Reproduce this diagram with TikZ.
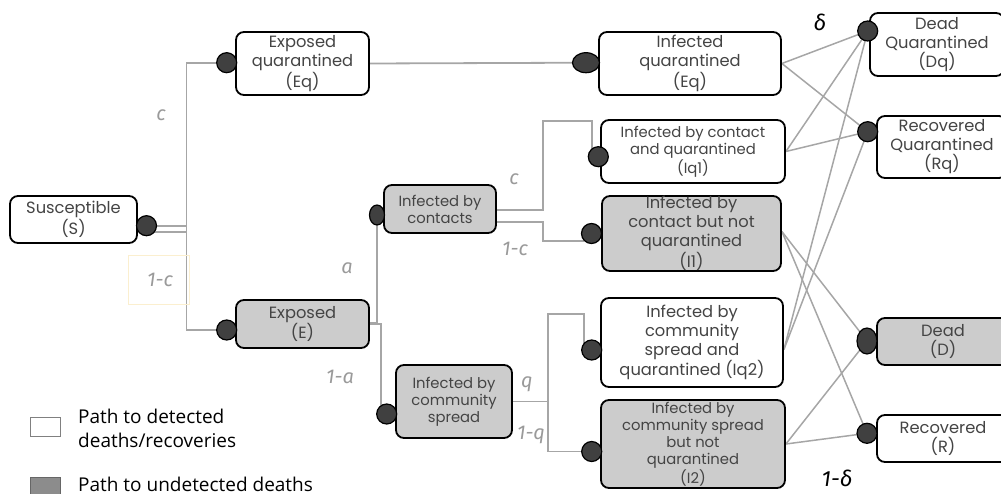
\documentclass[tikz,border=0pt]{standalone}
\usepackage{fontspec}
\setmainfont{Poppins}
\newfontfamily\lblfont{Fira Sans}
\newfontfamily\legfont{Open Sans}
\usetikzlibrary{backgrounds,calc}
\definecolor{txtgray}{HTML}{444444}
\definecolor{linegray}{HTML}{A6A6A6}
\definecolor{boxgray}{HTML}{CCCCCC}
\definecolor{dotgray}{HTML}{404040}
\definecolor{lblgray}{HTML}{9A9A9A}
\definecolor{ybox}{HTML}{FBEFCF}
\tikzset{
  box/.style={draw=black, line width=1.8pt, rounded corners=8pt, fill=white, text=txtgray, align=center, inner sep=0pt, font=\fontsize{16.3}{19}\selectfont},
  gbox/.style={box, fill=boxgray},
  small/.style={font=\fontsize{14.8}{17}\selectfont},
  dot/.style={circle, draw=black, line width=1.2pt, fill=dotgray, minimum size=20pt, inner sep=0pt},
  edot/.style={ellipse, draw=black, line width=1.2pt, fill=dotgray, inner sep=0pt},
  conn/.style={draw=linegray, line width=1.8pt},
  lbl/.style={text=lblgray, font=\lblfont\itshape\fontsize{20}{20}\selectfont, inner sep=0pt},
  blbl/.style={text=black, font=\lblfont\itshape\fontsize{22}{22}\selectfont, inner sep=0pt},
  leg/.style={font=\legfont\fontsize{19}{24}\selectfont, align=left, anchor=west, inner sep=0pt}
}
\usetikzlibrary{shapes.geometric}
\begin{document}
\begin{tikzpicture}[x=1pt,y=-1pt]
\useasboundingbox (0,0) rectangle (1001,494);
% boxes
\node[box, minimum width=127pt, minimum height=47pt] (S) at (73.5,219.5) {Susceptible\\(S)};
\node[box, minimum width=133pt, minimum height=63pt] (Eq1) at (302.5,63.5) {Exposed\\quarantined\\(Eq)};
\node[box, minimum width=182pt, minimum height=63pt] (IqE) at (690,63.5) {Infected\\quarantined\\(Eq)};
\node[box, small, minimum width=184pt, minimum height=63pt] (Iq1) at (693,151.5) {Infected by contact\\and quarantined\\(Iq1)};
\node[gbox, minimum width=179pt, minimum height=75pt] (I1) at (691.5,233.5) {Infected by\\contact but not\\quarantined\\(I1)};
\node[gbox, small, minimum width=112pt, minimum height=48pt] (Cont) at (440,209) {Infected by\\contacts};
\node[gbox, minimum width=133pt, minimum height=48pt] (E) at (302.5,324) {Exposed\\(E)};
\node[gbox, small, minimum width=116pt, minimum height=73pt] (CS) at (454,401.5) {Infected by\\community\\spread};
\node[box, minimum width=182pt, minimum height=89pt] (Iq2) at (692,342.5) {Infected by\\community\\spread and\\quarantined (Iq2)};
\node[gbox, small, minimum width=184pt, minimum height=88pt] (I2) at (693,444) {Infected by\\community spread\\but not\\quarantined\\(I2)};
\node[box, minimum width=134pt, minimum height=63pt] (Dq) at (937,44.5) {Dead\\Quarantined\\(Dq)};
\node[box, minimum width=130pt, minimum height=62pt] (Rq) at (942,147) {Recovered\\Quarantined\\(Rq)};
\node[gbox, minimum width=132pt, minimum height=47pt] (D) at (943,341.5) {Dead\\(D)};
\node[box, minimum width=132pt, minimum height=47pt] (R) at (943,438.5) {Recovered\\(R)};
% dots
\node[dot] (dS) at (146.5,225.7) {};
\node[dot] (dEq1) at (226.7,62.7) {};
\node[edot, minimum width=27pt, minimum height=20pt] (dIqE) at (586,62.7) {};
\node[dot] (dIq1) at (598.3,156.7) {};
\node[dot] (dI1) at (591.5,233.5) {};
\node[edot, minimum width=15pt, minimum height=20pt] (dC) at (377,215) {};
\node[dot] (dE) at (226.7,330) {};
\node[dot] (dCS) at (386.7,414) {};
\node[dot] (dIq2) at (591.7,350) {};
\node[dot] (dI2) at (591.7,451.5) {};
\node[dot] (dDq) at (867.7,31) {};
\node[dot] (dRq) at (867.7,131.7) {};
\node[edot, minimum width=20pt, minimum height=26pt] (dD) at (867,341) {};
\node[dot] (dR) at (867,433.3) {};
% connectors
\begin{scope}[on background layer]
\draw[conn] ([yshift=-6pt]dS.center) -- ++(40,0) |- (dEq1.center);
\draw[conn] (dS.center) -- ++(40,0) |- (dE.center);
\draw[conn] (Eq1.east) -- (dIqE.center);
\draw[conn] ([yshift=1.3pt]E.east) -| (dC.center);
\draw[conn] (E.east) -- ++(11,0) |- (dCS.center);
\draw[conn] ([yshift=-1pt]Cont.east) -- ++(46,0) |- ($(dIq1)+(-6.5,-35.5)$) -- ($(dIq1)+(-6.5,-5)$);
\draw[conn] ([yshift=-13pt]Cont.east) -- ++(46,0) |- ($(dI1)+(-8,7.2)$);
\draw[conn] (CS.east) -- ++(35,0) |- ($(dIq2)+(-7.5,-36)$) -- ($(dIq2)+(-7.5,-5)$);
\draw[conn] (CS.east) -- ++(35,0) |- (dI2.center);
\foreach \src/\y in {IqE/0,Iq1/0,Iq2/-7}{
  \draw[conn, line width=1.5pt] ([yshift=\y pt]\src.east) -- (dDq.center);
  \draw[conn, line width=1.5pt] ([yshift=\y pt]\src.east) -- (dRq.center);
}
\foreach \src/\y in {I1/2,I2/0}{
  \draw[conn, line width=1.5pt] ([yshift=\y pt]\src.east) -- (dD.center);
  \draw[conn, line width=1.5pt] ([yshift=\y pt]\src.east) -- (dR.center);
}
\end{scope}
% labels
\node[lbl] (lc1) at (161,115) {c};
\draw[ybox, line width=0.8pt] (128,255) rectangle (189,304);
\node[lbl] (l1c1) at (160,280) {1-c};
\node[lbl] (la) at (347,268) {a};
\node[lbl] (l1a) at (340,377) {1-a};
\node[lbl] (lc2) at (514,179) {c};
\node[lbl] (l1c2) at (515,249) {1-c};
\node[lbl] (lq) at (527,384) {q};
\node[lbl] (l1q) at (531,435) {1-q};
\node[blbl] (ld) at (820,22) {δ};
\node[blbl] (l1d) at (837,478) {1-δ};
% legend
\node[draw=gray, line width=1pt, fill=white, minimum width=30pt, minimum height=19pt, inner sep=0pt] (legW) at (45,426.5) {};
\node[leg] (legWt) at (78,428) {Path to detected\\deaths/recoveries};
\node[draw=black!60, line width=1pt, fill=gray!90, minimum width=30pt, minimum height=19pt, inner sep=0pt] (legG) at (45,486.5) {};
\node[leg] (legGt) at (78,484) {Path to undetected deaths};
\end{tikzpicture}
\end{document}
